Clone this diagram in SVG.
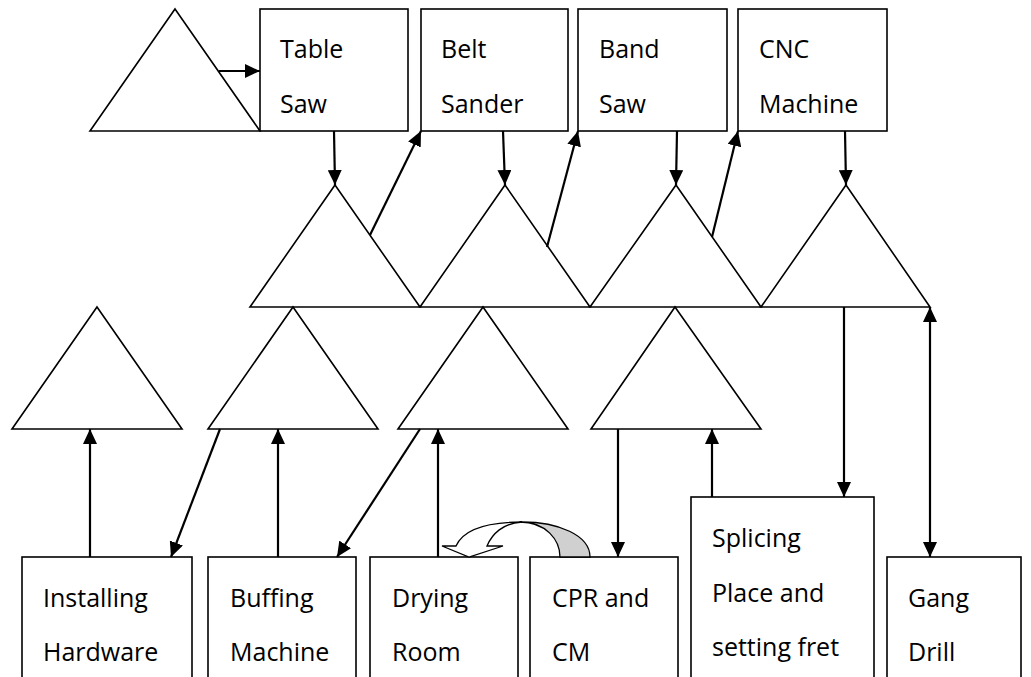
<svg xmlns="http://www.w3.org/2000/svg" width="1031" height="677" viewBox="0 0 1031 677">
  <style>
    .shape { fill: #fff; stroke: #000; stroke-width: 1.6; }
    .conn { stroke: #000; stroke-width: 2.2; fill: none; }
    .lbl { font-family: "Open Sans", "Liberation Sans", sans-serif; font-size: 25px; fill: #000; }
  </style>
  <defs>
    <marker id="ah" viewBox="0 0 15 14" refX="15" refY="7" markerWidth="15" markerHeight="14" markerUnits="userSpaceOnUse" orient="auto-start-reverse">
      <path d="M0,0 L15,7 L0,14 z" fill="#000"/>
    </marker>
  </defs>
  <rect width="1031" height="677" fill="#fff"/>

  <!-- top row -->
  <g id="tri-start"><polygon class="shape" points="175,9 260,131 90,131"/></g>
  <g id="table-saw"><rect class="shape" x="260" y="9" width="148" height="122"/><text class="lbl" x="280" y="58">Table</text><text class="lbl" x="280" y="113">Saw</text></g>
  <g id="belt-sander"><rect class="shape" x="421" y="9" width="147" height="122"/><text class="lbl" x="441" y="58">Belt</text><text class="lbl" x="441" y="113">Sander</text></g>
  <g id="band-saw"><rect class="shape" x="578" y="9" width="149" height="122"/><text class="lbl" x="599" y="58">Band</text><text class="lbl" x="599" y="113">Saw</text></g>
  <g id="cnc-machine"><rect class="shape" x="738" y="9" width="149" height="122"/><text class="lbl" x="759" y="58">CNC</text><text class="lbl" x="759" y="113">Machine</text></g>

  <!-- middle row triangles -->
  <g id="tri-m1"><polygon class="shape" points="335,185 420,307 250,307"/></g>
  <g id="tri-m2"><polygon class="shape" points="505,185 590,307 420,307"/></g>
  <g id="tri-m3"><polygon class="shape" points="676,185 761,307 590,307"/></g>
  <g id="tri-m4"><polygon class="shape" points="846,185 930,307 761,307"/></g>

  <!-- lower triangles -->
  <g id="tri-b1"><polygon class="shape" points="97,307 182,429 12,429"/></g>
  <g id="tri-b2"><polygon class="shape" points="293,307 378,429 208,429"/></g>
  <g id="tri-b3"><polygon class="shape" points="483,307 568,429 398,429"/></g>
  <g id="tri-b4"><polygon class="shape" points="675,307 761,429 591,429"/></g>

  <!-- bottom boxes -->
  <g id="installing-hardware"><rect class="shape" x="22" y="557" width="170" height="140"/><text class="lbl" x="43" y="607">Installing</text><text class="lbl" x="43" y="661">Hardware</text></g>
  <g id="buffing-machine"><rect class="shape" x="208" y="557" width="148" height="140"/><text class="lbl" x="230" y="607">Buffing</text><text class="lbl" x="230" y="661">Machine</text></g>
  <g id="drying-room"><rect class="shape" x="370" y="557" width="148" height="140"/><text class="lbl" x="392" y="607">Drying</text><text class="lbl" x="392" y="661">Room</text></g>
  <g id="cpr-cm"><rect class="shape" x="530" y="557" width="148" height="140"/><text class="lbl" x="552" y="607">CPR and</text><text class="lbl" x="552" y="661">CM</text></g>
  <g id="splicing"><rect class="shape" x="691" y="497" width="183" height="200"/><text class="lbl" x="712" y="547">Splicing</text><text class="lbl" x="712" y="602">Place and</text><text class="lbl" x="712" y="656">setting fret</text></g>
  <g id="gang-drill"><rect class="shape" x="887" y="557" width="134" height="140"/><text class="lbl" x="908" y="607">Gang</text><text class="lbl" x="908" y="661">Drill</text></g>

  <!-- connectors -->
  <g id="connectors">
    <line class="conn" x1="219" y1="71" x2="260" y2="71" marker-end="url(#ah)"/>
    <line class="conn" x1="334" y1="131" x2="335" y2="185" marker-end="url(#ah)"/>
    <line class="conn" x1="503" y1="131" x2="505" y2="185" marker-end="url(#ah)"/>
    <line class="conn" x1="677" y1="131" x2="676" y2="185" marker-end="url(#ah)"/>
    <line class="conn" x1="845" y1="131" x2="846" y2="185" marker-end="url(#ah)"/>
    <line class="conn" x1="370" y1="235" x2="421" y2="131" marker-end="url(#ah)"/>
    <line class="conn" x1="547" y1="247" x2="578" y2="131" marker-end="url(#ah)"/>
    <line class="conn" x1="712" y1="237" x2="738" y2="131" marker-end="url(#ah)"/>

    <line class="conn" x1="90" y1="557" x2="90" y2="429" marker-end="url(#ah)"/>
    <line class="conn" x1="220" y1="429" x2="171" y2="557" marker-end="url(#ah)"/>
    <line class="conn" x1="278" y1="557" x2="278" y2="429" marker-end="url(#ah)"/>
    <line class="conn" x1="420" y1="429" x2="337" y2="557" marker-end="url(#ah)"/>
    <line class="conn" x1="438" y1="557" x2="438" y2="429" marker-end="url(#ah)"/>
    <line class="conn" x1="618" y1="429" x2="618" y2="557" marker-end="url(#ah)"/>
    <line class="conn" x1="712" y1="497" x2="712" y2="429" marker-end="url(#ah)"/>
    <line class="conn" x1="844" y1="307" x2="844" y2="497" marker-end="url(#ah)"/>
    <line class="conn" x1="930" y1="307" x2="930" y2="557" marker-start="url(#ah)" marker-end="url(#ah)"/>

    <!-- curved arrow -->
    <path d="M522,522 C558,522 590,535 590,557 L560,557 C560,540 546,522 520,522 Z" fill="#d0d0d0" stroke="#000" stroke-width="1.3"/>
    <path d="M456,546 C463,530 485,522 522,522 C503,523 492,534 487,546 L503,546 L469,557 L442,546 Z" fill="#fff" stroke="#000" stroke-width="1.3" stroke-linejoin="miter"/>
  </g>
</svg>
